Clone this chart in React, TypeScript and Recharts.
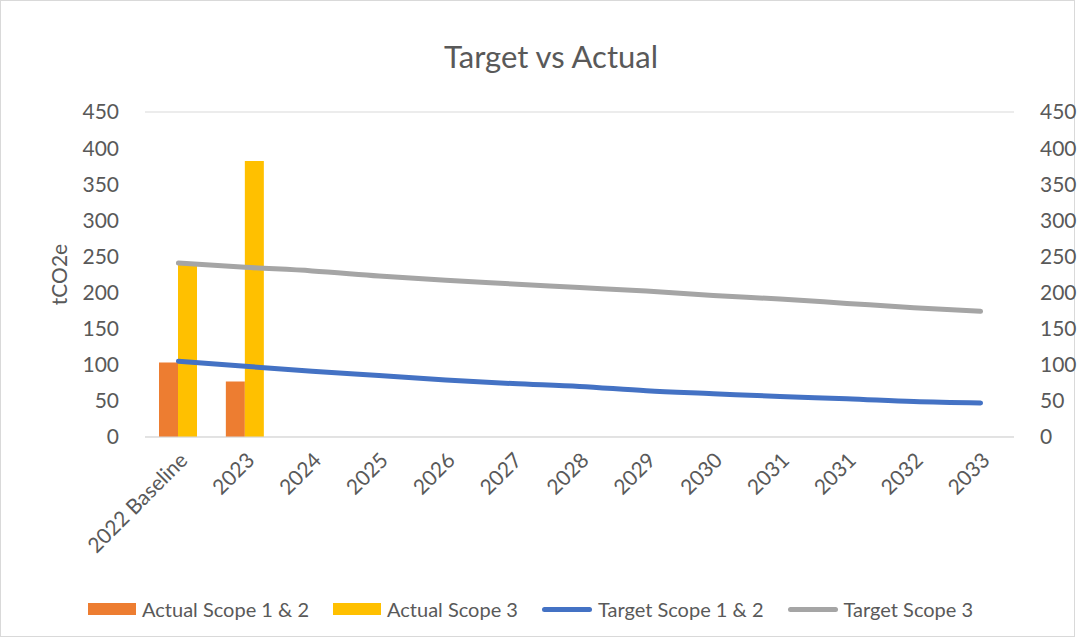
import {
  ComposedChart, Bar, Line, XAxis, YAxis, CartesianGrid, Legend,
} from "recharts";

const years = [
  "2022 Baseline", "2023", "2024", "2025", "2026", "2027", "2028",
  "2029", "2030", "2031", "2031", "2032", "2033",
];
const actualScope12 = [103, 77, null, null, null, null, null, null, null, null, null, null, null];
const actualScope3 = [240, 382, null, null, null, null, null, null, null, null, null, null, null];
const targetScope12 = [105, 98, 91, 85, 79, 74, 70, 64, 60, 56, 53, 49, 47];
const targetScope3 = [241, 235, 230, 223, 217, 212, 207, 202, 196, 191, 185, 179, 174];
const yTicks = [0, 50, 100, 150, 200, 250, 300, 350, 400, 450];

const data = years.map((year, i) => ({
  year,
  a12: actualScope12[i],
  a3: actualScope3[i],
  t12: targetScope12[i],
  t3: targetScope3[i],
}));

const FONT = "Lato, 'Open Sans', sans-serif";
const TEXT = "#595959";

function LegendRow({ payload }: any) {
  return (
    <div style={{ display: "flex", justifyContent: "flex-start", paddingLeft: 88, paddingTop: 6, gap: 24, fontFamily: FONT, fontSize: 20, color: TEXT }}>
      {(payload || []).map((p: any, i: number) => (
        <div key={i} style={{ display: "flex", alignItems: "center" }}>
          {p.type === "line" ? (
            <span style={{ width: 50, height: 5, borderRadius: 3, background: p.color, marginRight: 6 }} />
          ) : (
            <span style={{ width: 48, height: 12, background: p.color, marginRight: 6 }} />
          )}
          <span>{p.value}</span>
        </div>
      ))}
    </div>
  );
}

export default function App() {
  return (
    <div style={{ position: "absolute", left: 0, top: 0, width: 1073, height: 635, border: "1px solid #d9d9d9", background: "#fff" }}>
      <div style={{ position: "absolute", left: 0, width: 1100, top: 36, textAlign: "center", fontFamily: FONT, fontSize: 31, color: TEXT }}>
        Target vs Actual
      </div>
      <ComposedChart
        width={1079}
        height={639}
        data={data}
        margin={{ top: 112, right: 0, bottom: 0, left: 0 }}
        barGap={0}
        style={{ position: "absolute", left: -1, top: -1 }}
      >
        <CartesianGrid vertical={false} stroke="#d9d9d9" />
        <XAxis
          dataKey="year"
          axisLine={{ stroke: "#d9d9d9" }}
          tickLine={false}
          interval={0}
          height={154}
          angle={-45}
          textAnchor="end"
          tick={{ fontSize: 21, fill: TEXT, fontFamily: FONT, dy: 6 }}
        />
        <YAxis
          yAxisId="left"
          width={145}
          domain={[0, 450]}
          ticks={yTicks}
          axisLine={false}
          tickLine={false}
          tickMargin={20}
          tick={{ fontSize: 21, fill: TEXT, fontFamily: FONT }}
          label={{ value: "tCO2e", angle: -90, position: "insideLeft", offset: 60, style: { fontSize: 21, fill: TEXT, fontFamily: FONT, textAnchor: "middle" } }}
        />
        <YAxis
          yAxisId="right"
          orientation="right"
          width={65}
          domain={[0, 450]}
          ticks={yTicks}
          axisLine={false}
          tickLine={false}
          tickMargin={20}
          tick={{ fontSize: 21, fill: TEXT, fontFamily: FONT, textAnchor: "start" }}
        />
        <Bar yAxisId="left" dataKey="a12" name="Actual Scope 1 & 2" fill="#ED7D31" barSize={19} isAnimationActive={false} />
        <Bar yAxisId="left" dataKey="a3" name="Actual Scope 3" fill="#FFC000" barSize={19} isAnimationActive={false} />
        <Line yAxisId="right" type="monotone" dataKey="t12" name="Target Scope 1 & 2" stroke="#4472C4" strokeWidth={5} strokeLinecap="round" dot={false} isAnimationActive={false} />
        <Line yAxisId="right" type="monotone" dataKey="t3" name="Target Scope 3" stroke="#A5A5A5" strokeWidth={5} strokeLinecap="round" dot={false} isAnimationActive={false} />
        <Legend verticalAlign="bottom" height={48} content={LegendRow} />
      </ComposedChart>
    </div>
  );
}
